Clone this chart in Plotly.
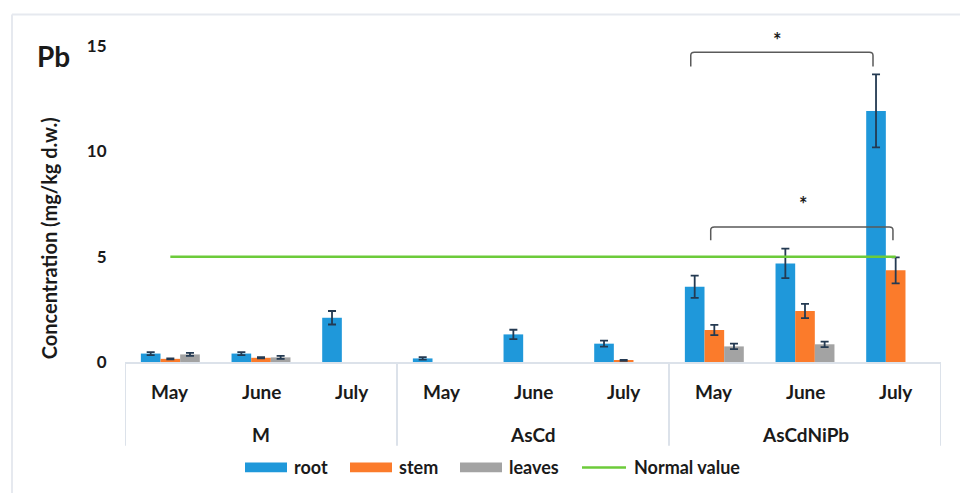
import plotly.graph_objects as go

# Pb concentration by treatment group and sampling month
groups = ["M", "AsCd", "AsCdNiPb"]
months = ["May", "June", "July"]

root = [0.40, 0.40, 2.10, 0.17, 1.31, 0.87, 3.57, 4.68, 11.92]
root_err = [0.07, 0.07, 0.32, 0.06, 0.22, 0.14, 0.53, 0.70, 1.73]
stem = [0.15, 0.20, None, None, None, 0.08, 1.52, 2.42, 4.35]
stem_err = [0.02, 0.03, None, None, None, 0.02, 0.24, 0.34, 0.62]
leaves = [0.36, 0.22, None, None, None, None, 0.74, 0.84, None]
leaves_err = [0.07, 0.07, None, None, None, None, 0.13, 0.13, None]
normal_value = 5

FONT = "Lato"
TXT = "#1a1a1a"
ERR = "#243a52"
COLORS = {"root": "#1f98da", "stem": "#fb7b2b", "leaves": "#a3a3a3", "normal": "#6ccb3a"}

xpos = list(range(len(groups) * len(months)))

fig = go.Figure()
for name, vals, errs in [("root", root, root_err), ("stem", stem, stem_err), ("leaves", leaves, leaves_err)]:
    fig.add_trace(go.Bar(
        x=xpos, y=vals, name=name, showlegend=False,
        marker=dict(color=COLORS[name], line=dict(width=0)),
        error_y=dict(type="data", array=errs, visible=True, color=ERR, thickness=1.8, width=4),
    ))

fig.add_trace(go.Scatter(
    x=[xpos[0], xpos[-1]], y=[normal_value, normal_value], mode="lines",
    line=dict(color=COLORS["normal"], width=2.5), showlegend=False,
))

shapes = []
annotations = []


def label(x, y, text, size, xref="paper", yref="paper", xanchor="center", **kw):
    annotations.append(dict(x=x, y=y, xref=xref, yref=yref, text=text, showarrow=False,
                            xanchor=xanchor, yanchor="middle",
                            font=dict(family=FONT, size=size, color=TXT, weight=700), **kw))


# category boxes below the axis
n = len(xpos)
for b in [-0.5, 2.5, 5.5, n - 0.5]:
    shapes.append(dict(type="line", xref="x", yref="paper", x0=b, x1=b, y0=0, y1=-0.265,
                       line=dict(color="#dce2ea", width=2)))
for i, xv in enumerate(xpos):
    label(xv, -0.092, months[i % 3], 19, xref="x")
for g, gname in enumerate(groups):
    label(g * 3 + 1, -0.228, gname, 19, xref="x")


# significance brackets
def bracket(x0, x1, ytop, ybot):
    return (f"M {x0},{ybot} L {x0},{ytop - 0.15} Q {x0},{ytop} {x0 + 0.04},{ytop} "
            f"L {x1 - 0.04},{ytop} Q {x1},{ytop} {x1},{ytop - 0.15} L {x1},{ybot}")


shapes.append(dict(type="path", xref="x", yref="y", path=bracket(5.74, 7.75, 14.7, 14.03),
                   line=dict(color="#5a5a5a", width=1.5)))
shapes.append(dict(type="path", xref="x", yref="y", path=bracket(5.96, 7.97, 6.41, 5.78),
                   line=dict(color="#5a5a5a", width=1.5)))
label(6.7, 1.02, "*", 20, xref="x")
label(6.98, 7.48, "*", 20, xref="x", yref="y")

# frame lines
shapes.append(dict(type="line", xref="paper", yref="paper", x0=-0.1385, x1=-0.1385, y0=1.0995, y1=-0.42,
                   line=dict(color="#e6e9ef", width=2)))
shapes.append(dict(type="line", xref="paper", yref="paper", x0=-0.1385, x1=1.03, y0=1.0995, y1=1.0995,
                   line=dict(color="#e6e9ef", width=2)))


# legend drawn by hand (wide swatches)
def px2x(px):
    return (px - 125) / 816


leg_y0, leg_y1 = -0.318, -0.349
leg_mid = (leg_y0 + leg_y1) / 2
for name, s0, s1, t0 in [("root", 245, 287, 292), ("stem", 350, 392, 397), ("leaves", 460, 502, 507)]:
    shapes.append(dict(type="rect", xref="paper", yref="paper", x0=px2x(s0), x1=px2x(s1),
                       y0=leg_y0, y1=leg_y1, fillcolor=COLORS[name], line=dict(width=0)))
    label(px2x(t0), leg_mid, name, 18, xanchor="left")
shapes.append(dict(type="line", xref="paper", yref="paper", x0=px2x(582), x1=px2x(626),
                   y0=leg_mid, y1=leg_mid, line=dict(color=COLORS["normal"], width=2.5)))
label(px2x(632), leg_mid, "Normal value", 18, xanchor="left")

# panel label and axis title
label(-0.0877, 0.967, "Pb", 28)
label(-0.093, 0.392, "Concentration (mg/kg d.w.)", 20, textangle=-90)

fig.update_layout(
    width=960, height=493,
    margin=dict(l=125, r=19, t=45.5, b=131),
    paper_bgcolor="white", plot_bgcolor="white",
    barmode="group", bargap=0.35, bargroupgap=0,
    shapes=shapes, annotations=annotations,
    xaxis=dict(range=[-0.5, n - 0.5], showticklabels=False, showgrid=False, zeroline=False,
               showline=True, linecolor="#dce2ea", linewidth=2, ticks=""),
    yaxis=dict(range=[0, 15], tickvals=[0, 5, 10, 15], showgrid=False, zeroline=False,
               showline=False, ticks="outside", ticklen=14, tickcolor="rgba(0,0,0,0)",
               tickfont=dict(family=FONT, size=17, color=TXT, weight=700)),
)

fig.write_html("out.html")
